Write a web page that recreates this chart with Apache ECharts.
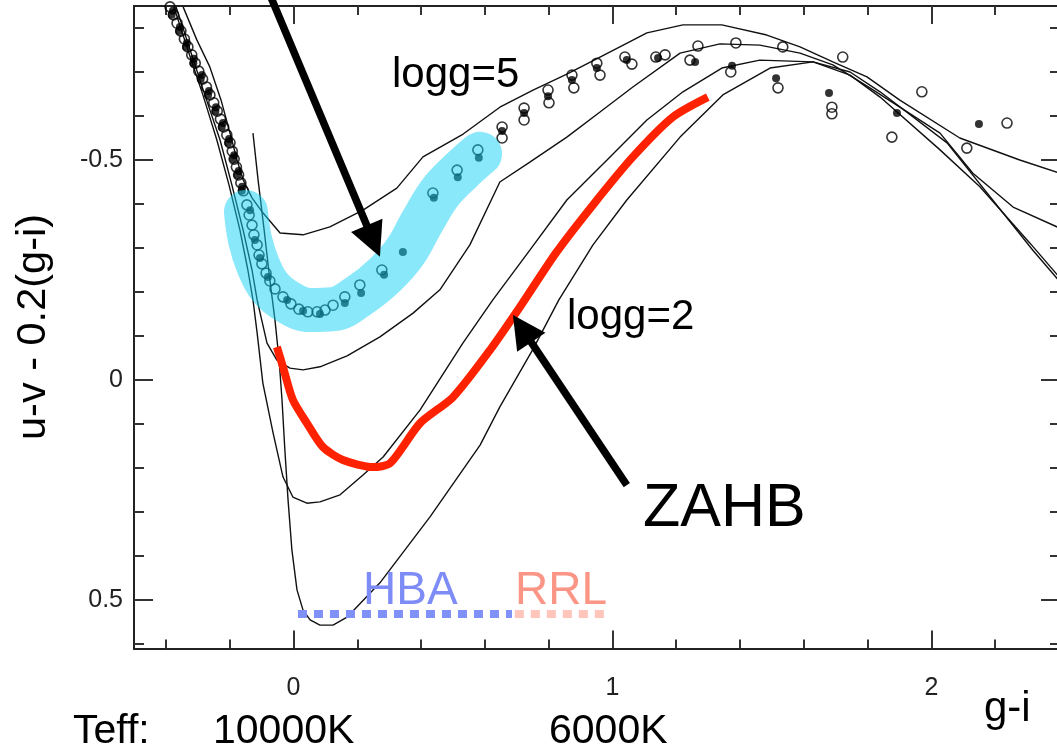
<!DOCTYPE html>
<html>
<head>
<meta charset="utf-8">
<script src="https://cdn.jsdelivr.net/npm/echarts@6/dist/echarts.min.js"></script>
<style>
  html, body { margin: 0; padding: 0; background: #fff; }
  #chart { width: 1057px; height: 751px; }
</style>
</head>
<body>
<div id="chart"></div>
<script>
// Axis ranges and tick positions (g-i horizontally, u-v - 0.2(g-i) vertically, inverted)
const X_RANGE = [-0.5, 2.4];
const Y_RANGE = [-0.85, 0.61];
const xMinorTicks = [-0.4, -0.2, 0, 0.2, 0.4, 0.6, 0.8, 1, 1.2, 1.4, 1.6, 1.8, 2, 2.2];
const xMajorTicks = [0, 1, 2];
const yMinorTicks = [-0.8, -0.7, -0.6, -0.5, -0.4, -0.3, -0.2, -0.1, 0, 0.1, 0.2, 0.3, 0.4, 0.5, 0.6];
const yMajorTicks = [-0.5, 0, 0.5];

// Model sequences for different surface gravities, [g-i, u-v-0.2(g-i)]
const model_logg5 = [
  [-0.346,-0.848],[-0.303,-0.773],[-0.262,-0.711],[-0.227,-0.636],[-0.199,-0.561],[-0.177,-0.5],
  [-0.158,-0.455],[-0.130,-0.414],[-0.096,-0.380],[-0.042,-0.334],[0.030,-0.330],[0.114,-0.348],
  [0.218,-0.386],[0.324,-0.436],[0.406,-0.507],[0.532,-0.559],[0.647,-0.620],[0.751,-0.659],
  [0.857,-0.695],[0.961,-0.734],[1.108,-0.789],[1.221,-0.807],[1.343,-0.807],[1.484,-0.784],
  [1.588,-0.757],[1.691,-0.723],[1.798,-0.689],[1.901,-0.636],[2.089,-0.550],[2.277,-0.500],
  [2.403,-0.470]
];
const model_logg4 = [
  [-0.368,-0.848],[-0.324,-0.75],[-0.278,-0.648],[-0.230,-0.545],[-0.193,-0.443],[-0.158,-0.341],
  [-0.130,-0.25],[-0.114,-0.182],[-0.083,-0.084],[-0.052,-0.045],[-0.011,-0.027],[0.030,-0.023],
  [0.083,-0.030],[0.168,-0.055],[0.271,-0.098],[0.375,-0.152],[0.459,-0.205],[0.553,-0.307],
  [0.647,-0.45],[0.741,-0.495],[0.857,-0.552],[0.961,-0.609],[1.064,-0.666],[1.212,-0.743],
  [1.337,-0.764],[1.462,-0.761],[1.588,-0.743],[1.691,-0.716],[1.807,-0.664],[1.901,-0.620],
  [2.027,-0.561],[2.130,-0.470],[2.256,-0.393],[2.403,-0.345]
];
const model_logg3 = [
  [-0.375,-0.848],[-0.331,-0.75],[-0.284,-0.648],[-0.240,-0.545],[-0.202,-0.443],[-0.168,-0.341],
  [-0.143,-0.25],[-0.127,-0.182],[-0.114,-0.107],[-0.096,0.007],[-0.064,0.120],[-0.033,0.220],
  [-0.002,0.266],[0.042,0.280],[0.083,0.277],[0.146,0.261],[0.218,0.216],[0.281,0.175],
  [0.397,0.068],[0.531,-0.084],[0.625,-0.182],[0.741,-0.295],[0.857,-0.409],[0.983,-0.5],
  [1.108,-0.591],[1.221,-0.655],[1.343,-0.709],[1.462,-0.727],[1.629,-0.723],[1.745,-0.693],
  [1.839,-0.643],[2.027,-0.523],[2.152,-0.439],[2.309,-0.311],[2.403,-0.232]
];
const model_logg2 = [
  [-0.127,-0.561],[-0.111,-0.455],[-0.092,-0.341],[-0.074,-0.227],[-0.058,-0.136],[-0.045,-0.045],
  [-0.036,0.045],[-0.027,0.159],[-0.017,0.273],[-0.005,0.386],[0.011,0.477],[0.030,0.523],
  [0.052,0.545],[0.083,0.557],[0.124,0.557],[0.168,0.539],[0.271,0.461],[0.428,0.311],
  [0.585,0.148],[0.647,0.061],[0.751,-0.070],[0.832,-0.182],[0.939,-0.307],[1.045,-0.409],
  [1.212,-0.552],[1.346,-0.648],[1.494,-0.709],[1.629,-0.723],[1.745,-0.7],[1.839,-0.655],
  [2.049,-0.539],[2.318,-0.295],[2.403,-0.223]
];

// Zero-age horizontal branch
const zahb = [
  [-0.052,-0.075],[-0.033,-0.030],[-0.002,0.045],[0.042,0.098],[0.092,0.152],[0.155,0.182],
  [0.249,0.198],[0.303,0.189],[0.397,0.098],[0.500,0.039],[0.616,-0.068],[0.710,-0.166],
  [0.823,-0.289],[0.939,-0.398],[1.064,-0.507],[1.190,-0.598],[1.299,-0.643]
];

// Selected blue horizontal-branch stars (highlight path)
const hbaPath = [
  [-0.149,-0.382],[-0.136,-0.318],[-0.111,-0.261],[-0.074,-0.211],[-0.017,-0.177],[0.052,-0.159],
  [0.124,-0.161],[0.208,-0.193],[0.287,-0.239],[0.350,-0.291],[0.403,-0.359],[0.459,-0.425],
  [0.522,-0.473],[0.585,-0.514]
];

// Colour ranges of HBA and RR Lyrae stars
const hbaRange = [[0.014, 0.532], [0.685, 0.532]];
const rrlRange = [[0.694, 0.532], [0.986, 0.532]];

// Observed stars: open circles
const starsOpen = [
  [-0.387,-0.848],[-0.376,-0.830],[-0.365,-0.811],[-0.353,-0.793],[-0.342,-0.775],[-0.331,-0.757],
  [-0.319,-0.739],[-0.308,-0.720],[-0.297,-0.702],[-0.285,-0.684],[-0.273,-0.666],[-0.262,-0.648],
  [-0.250,-0.630],[-0.239,-0.611],[-0.229,-0.593],[-0.219,-0.575],[-0.209,-0.557],[-0.199,-0.539],
  [-0.192,-0.520],[-0.186,-0.502],[-0.179,-0.484],[-0.172,-0.466],[-0.165,-0.448],[-0.157,-0.430],
  [-0.146,-0.398],[-0.139,-0.375],[-0.130,-0.352],[-0.124,-0.330],[-0.114,-0.307],[-0.108,-0.284],
  [-0.099,-0.264],[-0.086,-0.243],[-0.074,-0.225],[-0.058,-0.207],[-0.033,-0.189],[-0.008,-0.173],
  [0.017,-0.161],[0.045,-0.155],[0.074,-0.155],[0.099,-0.159],[0.124,-0.170],[0.161,-0.189],
  [0.208,-0.216],[0.277,-0.250],[0.437,-0.425],[0.513,-0.477],[0.578,-0.523],
  [0.654,-0.575],[0.654,-0.550],[0.723,-0.618],[0.723,-0.591],[0.798,-0.659],[0.801,-0.630],
  [0.873,-0.693],[0.879,-0.664],[0.951,-0.720],[0.961,-0.693],[1.039,-0.734],[1.061,-0.718],
  [1.136,-0.734],[1.165,-0.739],[1.243,-0.727],[1.268,-0.759],[1.371,-0.700],[1.387,-0.766],
  [1.534,-0.757],[1.519,-0.664],[1.722,-0.734],[1.688,-0.620],[1.688,-0.605],[1.876,-0.552],
  [1.970,-0.655],[2.111,-0.527],[2.237,-0.584]
];
// Observed stars: filled dots
const starsFilled = [
  [-0.378,-0.839],[-0.356,-0.802],[-0.334,-0.766],[-0.312,-0.730],[-0.287,-0.693],[-0.265,-0.657],
  [-0.243,-0.620],[-0.221,-0.584],[-0.202,-0.548],[-0.186,-0.511],[-0.172,-0.475],[-0.161,-0.439],
  [-0.382,-0.830],[-0.359,-0.793],[-0.337,-0.757],[-0.314,-0.720],[-0.291,-0.684],[-0.268,-0.648],
  [-0.245,-0.611],[-0.225,-0.575],[-0.205,-0.539],[-0.189,-0.502],[-0.176,-0.466],[-0.162,-0.430],
  [-0.136,-0.386],[-0.121,-0.318],[-0.105,-0.277],[-0.080,-0.234],[-0.020,-0.182],[0.030,-0.157],
  [0.083,-0.150],[0.161,-0.175],[0.212,-0.198],[0.284,-0.239],[0.343,-0.291],[0.440,-0.414],
  [0.515,-0.461],[0.581,-0.505],
  [0.654,-0.566],[0.723,-0.607],[0.798,-0.645],[0.873,-0.682],[0.951,-0.709],[1.045,-0.727],
  [1.143,-0.732],[1.259,-0.723],[1.375,-0.714],[1.513,-0.686],[1.679,-0.652],[1.892,-0.607],
  [2.149,-0.582]
];

// Annotation arrows: [tail, tip] in data units
const arrowHBA = [[-0.080, -0.886], [0.271, -0.280]];
const arrowZAHB = [[1.045, 0.239], [0.688, -0.148]];

const FONT = '"Liberation Sans", Arial, Helvetica, sans-serif';
const AXIS_COLOR = '#222';

function xAxisDef(position, ticks, tickLen, labels) {
  return {
    type: 'value', position: position, min: X_RANGE[0], max: X_RANGE[1],
    axisLine: { show: true, onZero: false, lineStyle: { color: AXIS_COLOR, width: 2 } },
    axisTick: { show: true, inside: true, length: tickLen, customValues: ticks,
                lineStyle: { color: '#333', width: 2 } },
    axisLabel: labels ? { show: true, customValues: labels, margin: 27, fontSize: 25,
                          fontFamily: FONT, color: '#222' } : { show: false },
    splitLine: { show: false }
  };
}
function yAxisDef(position, ticks, tickLen, labels) {
  return {
    type: 'value', position: position, min: Y_RANGE[0], max: Y_RANGE[1], inverse: true,
    axisLine: { show: true, onZero: false, lineStyle: { color: AXIS_COLOR, width: 2 } },
    axisTick: { show: true, inside: true, length: tickLen, customValues: ticks,
                lineStyle: { color: '#333', width: 2 } },
    axisLabel: labels ? { show: true, customValues: labels, margin: 11, fontSize: 25,
                          fontFamily: FONT, color: '#222' } : { show: false },
    splitLine: { show: false }
  };
}

function modelLine(data) {
  return {
    type: 'line', data: data, showSymbol: false, symbol: 'none', silent: true, z: 2,
    lineStyle: { color: '#111', width: 1.4 }
  };
}

function txt(text, x, y, size, color, extra) {
  return Object.assign({
    type: 'text', x: x, y: y, silent: true, z: 20,
    style: {
      text: text, fill: color || '#000', font: size + 'px ' + FONT,
      textAlign: 'left', textVerticalAlign: 'middle', align: 'left', verticalAlign: 'middle'
    }
  }, extra || {});
}

const chart = echarts.init(document.getElementById('chart'), null, { renderer: 'canvas' });
chart.setOption({
  animation: false,
  backgroundColor: '#fff',
  grid: { left: 134, top: 6, width: 925, height: 642.4, containLabel: false, outerBoundsMode: 'none' },
  xAxis: [
    xAxisDef('bottom', xMinorTicks, 9, xMajorTicks),
    xAxisDef('bottom', xMajorTicks, 18, null),
    xAxisDef('top', xMinorTicks, 9, null),
    xAxisDef('top', xMajorTicks, 18, null)
  ],
  yAxis: [
    yAxisDef('left', yMinorTicks, 10, yMajorTicks),
    yAxisDef('left', yMajorTicks, 19, null),
    yAxisDef('right', yMinorTicks, 9, null),
    yAxisDef('right', yMajorTicks, 18, null)
  ],
  series: [
    modelLine(model_logg5),
    modelLine(model_logg4),
    modelLine(model_logg3),
    modelLine(model_logg2),
    {
      type: 'line', name: 'ZAHB', data: zahb, showSymbol: false, symbol: 'none', smooth: 0.25,
      silent: true, z: 3,
      lineStyle: { color: '#ff2200', width: 8, cap: 'butt', join: 'round' }
    },
    {
      type: 'line', name: 'HBA', data: hbaRange, showSymbol: false, symbol: 'none', silent: true, z: 3,
      lineStyle: { color: '#7f90f7', width: 8, type: [9, 7], cap: 'butt' }
    },
    {
      type: 'line', name: 'RRL', data: rrlRange, showSymbol: false, symbol: 'none', silent: true, z: 3,
      lineStyle: { color: '#ffc4ba', width: 8, type: [9, 7], cap: 'butt' }
    },
    {
      type: 'scatter', data: starsOpen, symbol: 'circle', symbolSize: 10, silent: true, z: 4,
      itemStyle: { color: 'rgba(255,255,255,0)', borderColor: '#000', borderWidth: 1.6 }
    },
    {
      type: 'scatter', data: starsFilled, symbol: 'circle', symbolSize: 8, silent: true, z: 4,
      itemStyle: { color: '#000' }
    },
    {
      type: 'line', data: hbaPath, showSymbol: false, symbol: 'none', smooth: 0.4, silent: true, z: 6,
      lineStyle: { color: 'rgba(20,210,245,0.5)', width: 44, cap: 'round', join: 'round' }
    }
  ]
});

// Arrow (shaft + triangular head) placed through the grid's own coordinate conversion
function arrowElements(tail, tip, headLen, headWidth, shaftWidth) {
  const p0 = chart.convertToPixel({ xAxisIndex: 0, yAxisIndex: 0 }, tail);
  const p1 = chart.convertToPixel({ xAxisIndex: 0, yAxisIndex: 0 }, tip);
  const dx = p1[0] - p0[0], dy = p1[1] - p0[1];
  const len = Math.sqrt(dx * dx + dy * dy);
  const ux = dx / len, uy = dy / len;
  const bx = p1[0] - ux * headLen, by = p1[1] - uy * headLen;
  const nx = -uy * headWidth / 2, ny = ux * headWidth / 2;
  return [
    { type: 'line', silent: true, z: 15,
      shape: { x1: p0[0], y1: p0[1], x2: bx + ux * 2, y2: by + uy * 2 },
      style: { stroke: '#000', lineWidth: shaftWidth, lineCap: 'butt' } },
    { type: 'polygon', silent: true, z: 15,
      shape: { points: [[p1[0], p1[1]], [bx + nx, by + ny], [bx - nx, by - ny]] },
      style: { fill: '#000' } }
  ];
}

const graphics = [
  txt('logg=5', 392, 75, 42),
  txt('logg=2', 567, 317, 42),
  txt('ZAHB', 643, 509, 61),
  txt('HBA', 363, 591, 46, '#7d8cf6'),
  txt('RRL', 515, 591, 46, '#fb9585'),
  txt('Teff:', 73, 732, 41),
  txt('10000K', 213, 732, 41),
  txt('6000K', 549, 732, 41),
  txt('g-i', 984, 709, 42),
  {
    type: 'text', x: 34, y: 327, rotation: Math.PI / 2, silent: true, z: 20,
    style: {
      text: 'u-v - 0.2(g-i)', fill: '#000', font: '41.5px ' + FONT,
      textAlign: 'center', textVerticalAlign: 'middle', align: 'center', verticalAlign: 'middle'
    }
  }
].concat(
  arrowElements(arrowHBA[0], arrowHBA[1], 34, 34, 7.5),
  arrowElements(arrowZAHB[0], arrowZAHB[1], 33, 34, 7.5)
);

chart.setOption({ graphic: { elements: graphics } });
</script>
</body>
</html>
